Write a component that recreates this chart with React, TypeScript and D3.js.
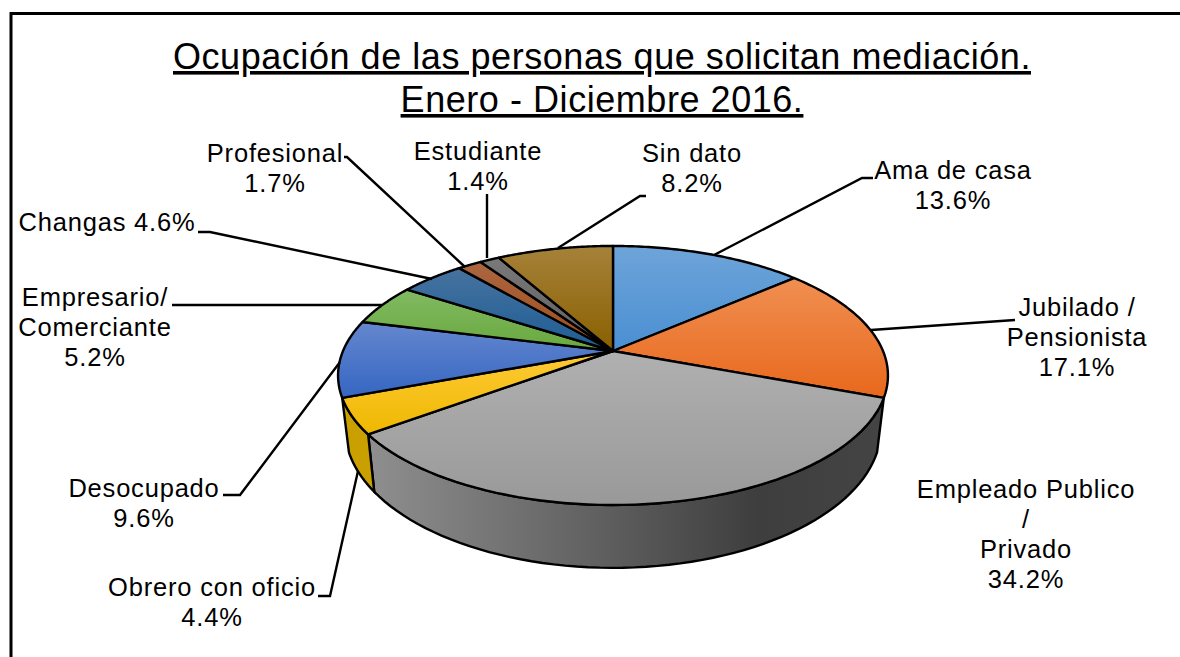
import React from "react";
import * as d3 from "d3";

const categories = ["Ama de casa","Jubilado / Pensionista","Empleado Publico / Privado","Obrero con oficio","Desocupado","Empresario/ Comerciante","Changas","Profesional","Estudiante","Sin dato"];
const values = [13.6,17.1,34.2,4.4,9.6,5.2,4.6,1.7,1.4,8.2];
const topColors = ["#6ea4d9","#f08f52","#b0b0b0","#ffca36","#6587ce","#82b962","#47739f","#ab6642","#797979","#a6823a"];
const bottomColors = ["#4a8fd2","#e8681c","#999999","#eeb800","#3566c2","#68a93e","#1d5c95","#a04c16","#5e5e5e","#896000"];
const titleLines = ["Ocupación de las personas que solicitan mediación.","Enero - Diciembre 2016."];
const labelLines = [
  ["Ama de casa","13.6%"],["Jubilado /","Pensionista","17.1%"],["Empleado Publico","/","Privado","34.2%"],["Obrero con oficio","4.4%"],
  ["Desocupado","9.6%"],["Empresario/","Comerciante","5.2%"],["Changas 4.6%"],["Profesional","1.7%"],["Estudiante","1.4%"],["Sin dato","8.2%"],
];
const labelAnchors = [[953,179],[1077,316],[1026,498],[212,596],[144,497],[95,306],[107,231],[275,162],[478,160],[692,162]];
const leaders = [
  [[714,255],[862,178],[873,178]],[[871,330],[1015,320]],[],[[358,471],[330,596],[318,596]],
  [[340,362],[240,495],[223,495]],[[382,305],[172,305]],[[432,279],[210,232],[198,232]],[[465,267],[347,157],[344,157]],[[487,258],[487,194]],[[558,248],[640,196],[646,196]],
];

const cx = 613, cy = 351, A = 270, B = 124.9, k = 0.189;
const fracX = d3.scaleLinear().domain([-1, 1]).range([cx - A, cx + A]);
const fracY = d3.scaleLinear().domain([-1, 1]).range([cy - B, cy + B]);
const lowX = d3.scaleLinear().domain([-1, 1]).range([cx - A * 0.975, cx + A * 0.975]);
const lowY = d3.scaleLinear().domain([-1, 1]).range([402 - 134.5, 402 + 134.5]);

function rim(a: number, low = false): [number, number] {
  const X = Math.sin(a), Y = -Math.cos(a), w = 1 - k * Y;
  return low ? [lowX(X / w), lowY(Y / w)] : [fracX(X / w), fracY(Y / w)];
}
const arcPts = (a0: number, a1: number, low = false) =>
  d3.range(0, 61).map((i) => rim(a0 + ((a1 - a0) * i) / 60, low));
const line = d3.line();
const arcs = d3.pie<number>().sort(null)(values);
const font = "'Liberation Sans', Arial, sans-serif";

export default function App() {
  const gray = arcs[2], yellow = arcs[3];
  const wall = (a0: number, a1: number) =>
    line([...arcPts(a0, a1), ...arcPts(a0, a1, true).reverse()] as [number, number][])! + "Z";
  return (
    <svg width={1180} height={657} viewBox="0 0 1180 657"
      style={{ position: "absolute", left: 0, top: 0, background: "#fff", display: "block" }}>
      <defs>
        {arcs.map((_, i) => (
          <linearGradient key={i} id={`g${i}`} x1="0" y1="0" x2="0" y2="1">
            <stop offset="0" stopColor={topColors[i]} />
            <stop offset="1" stopColor={bottomColors[i]} />
          </linearGradient>
        ))}
        <linearGradient id="wallGray" gradientUnits="userSpaceOnUse" x1="372" y1="0" x2="885" y2="0">
          <stop offset="0" stopColor="#8e8e8e" />
          <stop offset="0.45" stopColor="#5f5f5f" />
          <stop offset="0.75" stopColor="#3e3e3e" />
          <stop offset="1" stopColor="#444444" />
        </linearGradient>
      </defs>
      <path d="M1180,13.5H11V657" fill="none" stroke="#000" strokeWidth={3} />
      <g fontFamily={font} fill="#000" textAnchor="middle">
        {titleLines.map((t, i) => (
          <text key={t} x={602} y={69 + i * 43} fontSize={36} letterSpacing={0.55} textDecoration="underline">{t}</text>
        ))}
      </g>
      <path d={wall(gray.startAngle, gray.endAngle)} fill="url(#wallGray)" stroke="#000" strokeWidth={2.4} />
      <path d={wall(yellow.startAngle, yellow.endAngle)} fill="#c9a000" stroke="#000" strokeWidth={2.4} />
      {arcs.map((d, i) => (
        <path key={i} d={line([[cx, cy], ...arcPts(d.startAngle, d.endAngle)] as [number, number][])! + "Z"}
          fill={`url(#g${i})`} stroke="#000" strokeWidth={2.4} strokeLinejoin="round" />
      ))}
      {leaders.map((pts, i) => pts.length > 0 && (
        <path key={i} d={line(pts as [number, number][])!} fill="none" stroke="#000" strokeWidth={2.4} />
      ))}
      <g fontFamily={font} fontSize={25.5} fill="#000" textAnchor="middle" letterSpacing={0.8}>
        {labelLines.map((lines, i) => lines.map((t, j) => (
          <text key={`${i}-${j}`} x={labelAnchors[i][0]} y={labelAnchors[i][1] + j * 30}>{t}</text>
        )))}
      </g>
    </svg>
  );
}
